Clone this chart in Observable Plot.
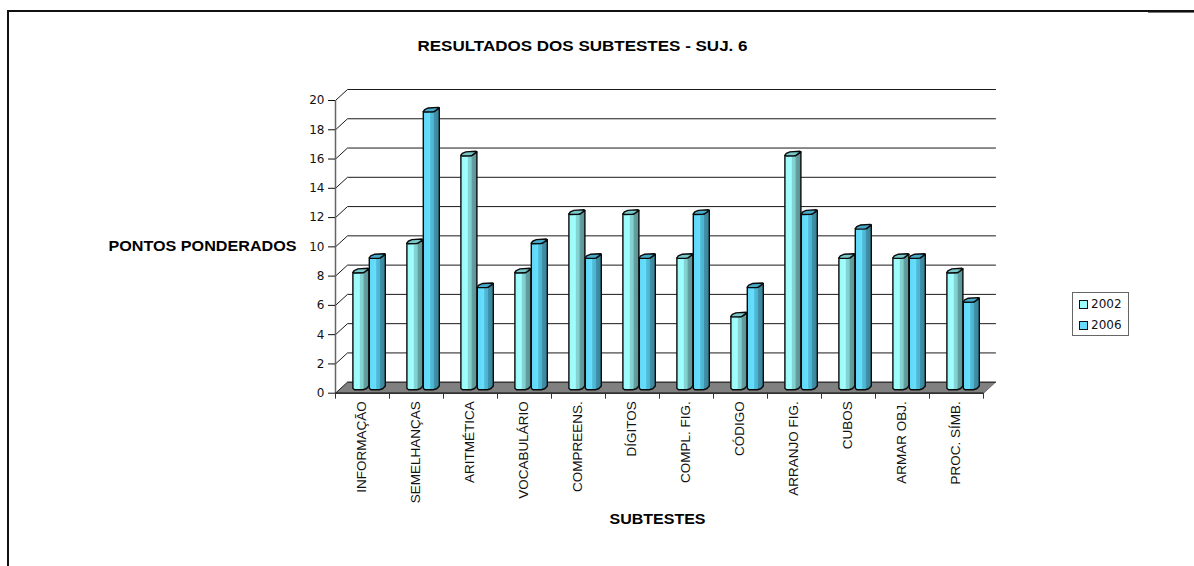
<!DOCTYPE html>
<html>
<head>
<meta charset="utf-8">
<script src="https://cdn.jsdelivr.net/npm/d3@7"></script>
<script src="https://cdn.jsdelivr.net/npm/@observablehq/plot@0.6"></script>
<style>
  html, body { margin: 0; padding: 0; background: #fff; }
  #page { position: relative; width: 1194px; height: 566px; overflow: hidden; }
  #page svg { position: absolute; left: 0; top: 0; display: block; }
  .edge { position: absolute; background: #111; z-index: 2; }
  .legend { position: absolute; left: 1072px; top: 292px; width: 55px; height: 42px; border: 1px solid #666; background: #fff;
            font: 12px "DejaVu Sans", sans-serif; color: #111; z-index: 2; }
  .legend div { position: absolute; left: 6px; height: 12px; line-height: 12px; white-space: nowrap; }
  .legend i { display: inline-block; width: 7px; height: 7px; border: 1px solid #111; margin-right: 3px; vertical-align: -0.5px; }
</style>
</head>
<body>
<div id="page">
  <div class="edge" style="left:7px;top:10px;width:2px;height:556px"></div>
  <div class="edge" style="left:7px;top:10px;width:1187px;height:1.5px"></div>
  <div class="edge" style="left:1148px;top:11.5px;width:46px;height:1px;background:#777"></div>
  <div class="legend" id="legend"></div>
</div>
<script>
// Weighted scores per subtest, two test years
const subtests = ["INFORMAÇÃO", "SEMELHANÇAS", "ARITMÉTICA", "VOCABULÁRIO", "COMPREENS.", "DÍGITOS",
                  "COMPL. FIG.", "CÓDIGO", "ARRANJO FIG.", "CUBOS", "ARMAR OBJ.", "PROC. SÍMB."];
const scores2002 = [8, 10, 16, 8, 12, 12, 9, 5, 16, 9, 9, 8];
const scores2006 = [9, 19, 7, 10, 9, 9, 12, 7, 12, 11, 9, 6];
const yTicks = [0, 2, 4, 6, 8, 10, 12, 14, 16, 18, 20];
const years = ["2002", "2006"];
const title = "RESULTADOS DOS SUBTESTES - SUJ. 6";
const yTitle = "PONTOS PONDERADOS";
const xTitle = "SUBTESTES";

// Chart frame in pixels; one category is 54px wide, one score unit about 14.63px tall
const W = 1194, H = 566, ML = 335, MR = 211, MT = 100, MB = 173.3;
const ux = 12 / (W - ML - MR), uy = 20 / (H - MT - MB);
const depthX = 12 * ux, depthY = 11 * uy;         // oblique offset of the back wall

// Oblique column geometry, expressed in score/category units
const barFront = 11 * ux, barSideX = 5 * ux, barSideY = 3.6 * uy, baseLift = 3.6 * uy;
const slotOffset = {2002: 17.4 * ux, 2006: 33.8 * ux};
const capFill = {2002: "#78c8ca", 2006: "#48aaca"};

const bars = years.flatMap((year) =>
  (year === "2002" ? scores2002 : scores2006).map((value, i) => ({
    year, value, key: year + "-" + i,
    left: i + slotOffset[year],
    base: baseLift,
    top: value + baseLift
  }))
);

const poly = (rows, pts) => rows.flatMap((b) => {
  const p = pts(b);
  return [...p, p[0]].map(([x, y]) => ({key: b.key, x, y}));
});

// Full outline of a column: flat left edge, rounded foot, raised right edge
const bodyShape = (b) => {
  const l = b.left, r = l + barFront;
  return [
    [l, b.top], [l, b.base + 1.4 * uy], [l + 1.6 * ux, b.base - 0.1 * uy],
    [r - 1 * ux, b.base - 0.1 * uy], [r + 2.4 * ux, b.base + 0.8 * uy], [r + barSideX, b.base + barSideY],
    [r + barSideX, b.top + barSideY], [r, b.top]
  ];
};
// Rounded lid
const capShape = (b) => {
  const l = b.left, r = l + barFront;
  return [
    [l, b.top], [l + 1.5 * ux, b.top - 0.5 * uy], [r - 1.5 * ux, b.top - 0.3 * uy], [r, b.top],
    [r + barSideX, b.top + barSideY], [r + barSideX - 1 * ux, b.top + barSideY + 0.6 * uy],
    [l + barSideX, b.top + barSideY], [l + 1.4 * ux, b.top + 2 * uy]
  ];
};

// Cylinder-like horizontal shading of the column bodies
const gradients = () => {
  const defs = d3.create("svg:defs");
  const stops = {
    2002: [[0, "#9cf8f8"], [0.4, "#a0ffff"], [0.46, "#84d4d4"], [0.64, "#80d0d0"], [0.7, "#64a0a2"], [1, "#5a9294"]],
    2006: [[0, "#60d6f4"], [0.4, "#66deff"], [0.46, "#50bcd8"], [0.64, "#4cb4d0"], [0.7, "#3f90a8"], [1, "#37849c"]]
  };
  for (const year of years) {
    const g = defs.append("linearGradient").attr("id", "body" + year);
    for (const [o, c] of stops[year]) g.append("stop").attr("offset", o).attr("stop-color", c);
  }
  return defs.node();
};

const floor = [[0, 0], [12, 0], [12 + depthX, depthY], [depthX, depthY]].map(([x, y]) => ({x, y}));
const walls = yTicks.flatMap((v) => [
  {v, x: 0, y: v},
  {v, x: depthX, y: v + depthY},
  {v, x: 12 + depthX, y: v + depthY}
]);
const edgeTicks = d3.range(0, 13);

const barMarks = years.flatMap((year) => {
  const rows = bars.filter((b) => b.year === year);
  const base = {x: "x", y: "y", z: "key", stroke: "#0a0a0a", strokeWidth: 1.4, strokeLinejoin: "round"};
  return [
    Plot.line(poly(rows, bodyShape), {...base, fill: `url(#body${year})`}),
    Plot.line(poly(rows, capShape), {...base, fill: capFill[year]})
  ];
});

const textStyle = {fontFamily: "'Liberation Sans', Arial, sans-serif", fill: "#000"};
const heading = {frameAnchor: "top-left", textAnchor: "middle", lineAnchor: "middle", fontWeight: "bold", fontSize: 14, ...textStyle};

const chart = Plot.plot({
  width: W, height: H,
  marginLeft: ML, marginRight: MR, marginTop: MT, marginBottom: MB,
  style: {background: "transparent", overflow: "visible"},
  x: {domain: [0, 12], axis: null},
  y: {domain: [0, 20], axis: null},
  marks: [
    gradients,
    // grey floor
    Plot.line(floor, {x: "x", y: "y", fill: "#808080", stroke: "#6e6e6e", strokeWidth: 1}),
    // gridlines folding from the front plane onto the back wall
    Plot.line(walls, {x: "x", y: "y", z: "v", stroke: "#1a1a1a", strokeWidth: 1}),
    // front vertical axis and bottom edge
    Plot.ruleX([0], {y1: 0, y2: 20, stroke: "#666", strokeWidth: 1.5}),
    Plot.ruleY([0], {x1: 0, x2: 12, stroke: "#111", strokeWidth: 1.3}),
    Plot.ruleX(edgeTicks, {y1: 0, y2: -6 * uy, stroke: "#333", strokeWidth: 1}),
    Plot.axisY({
      ticks: yTicks, tickSize: 7, tickPadding: 4, label: null, stroke: "#111",
      fontFamily: "'DejaVu Sans', sans-serif", fontSize: 12, fill: "#111"
    }),
    ...barMarks,
    // rotated category names hanging under the axis
    Plot.text(subtests, {
      x: (d, i) => i + 0.5, y: 0, text: (d) => d, rotate: -90, textAnchor: "end", lineAnchor: "middle",
      dy: 8, dx: -1, fontSize: 13.5, ...textStyle, fill: "#111"
    }),
    Plot.text([title], {...heading, dx: 582 - ML, dy: 46 - MT}),
    Plot.text([yTitle], {...heading, dx: 202 - ML, dy: 246 - MT}),
    Plot.text([xTitle], {...heading, dx: 657 - ML, dy: 519 - MT})
  ]
});

// The headings are set wide: fit each to its measured run
const runs = new Map([[title, 330], [yTitle, 188], [xTitle, 96]]);
d3.select(chart).selectAll("text").each(function () {
  const run = runs.get(this.textContent);
  if (run) d3.select(this).attr("textLength", run).attr("lengthAdjust", "spacingAndGlyphs");
});
document.getElementById("page").prepend(chart);

// Series key
const legend = document.getElementById("legend");
const swatch = {2002: "#99ffff", 2006: "#66ddff"};
years.forEach((year, i) => {
  const row = document.createElement("div");
  row.style.top = (i === 0 ? 5 : 26) + "px";
  row.innerHTML = `<i style="background:${swatch[year]}"></i>${year}`;
  legend.appendChild(row);
});
</script>
</body>
</html>
